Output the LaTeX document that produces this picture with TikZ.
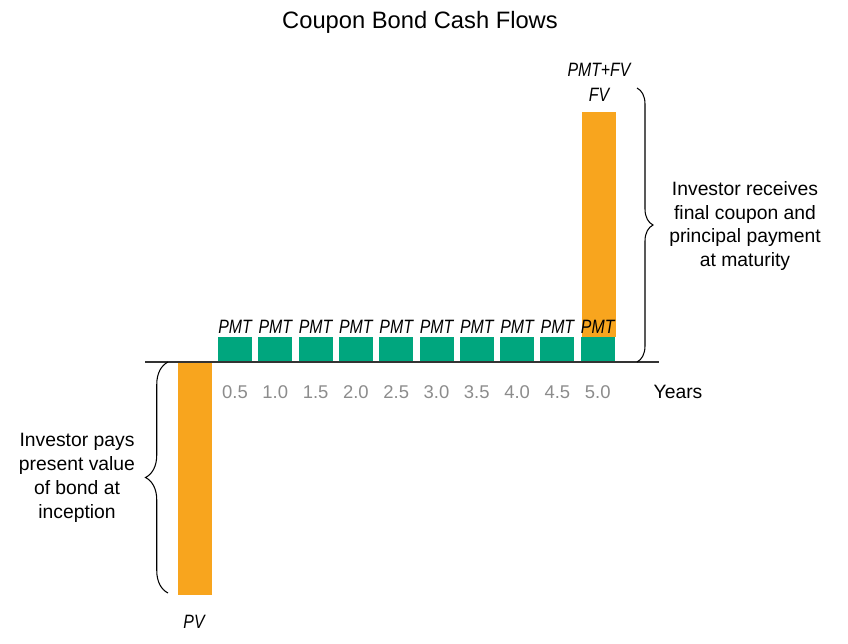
\documentclass[tikz,border=0pt]{standalone}
\usepackage{fontspec}
\usepackage{graphicx}
\setmainfont{Liberation Sans}
\usetikzlibrary{positioning}
\usetikzlibrary{decorations.pathreplacing}
\definecolor{bondorange}{HTML}{F8A51E}
\definecolor{bondgreen}{HTML}{00A67E}
\definecolor{yeargray}{HTML}{8C8C8C}

\newcommand{\narrow}[1]{\scalebox{0.82}[1]{#1}}

\tikzset{
  coupon/.style={fill=bondgreen, inner sep=0pt, minimum width=0.68cm, minimum height=0.5cm},
  cashlabel/.style={font=\fontsize{11}{12}\selectfont\itshape},
  yearlabel/.style={font=\fontsize{10.5}{12}\selectfont, text=yeargray},
  note/.style={align=center, font=\fontsize{11}{13.6}\selectfont},
  bondbrace/.style={decorate, decoration={brace, amplitude=#1}, semithick}
}

\begin{document}
\begin{tikzpicture}[x=0.02cm, y=-0.02cm]
\useasboundingbox (0,0) rectangle (848,643);

\node (title) at (420,22) {\fontsize{13.5}{16}\selectfont Coupon Bond Cash Flows};

% the initial outflow
\fill [bondorange] (178,362) rectangle (212,595);
\node [cashlabel] (pv) at (194,622) {\narrow{PV}};

% final principal on top of the last coupon
\fill [bondorange] (582,112) rectangle (616,337);
\node [cashlabel] (pmtfv) at (599,70) {\narrow{PMT+FV}};
\node [cashlabel] (fv) at (599,95) {\narrow{FV}};

% coupons
\foreach \i/\t in {1/0.5,2/1.0,3/1.5,4/2.0,5/2.5,6/3.0,7/3.5,8/4.0,9/4.5,10/5.0} {
  \node [coupon] (c\i) at ({235+(\i-1)*40.3},349.5) {};
  \node [cashlabel] (pmt\i) at ({235+(\i-1)*40.3},327) {\narrow{PMT}};
  \node [yearlabel] (yr\i) at ({235+(\i-1)*40.3},392) {\t};
}

% time axis
\coordinate (axisL) at (145,362);
\coordinate (axisR) at (659,362);
\draw [semithick, black!80] (axisL) -- (axisR);
\node (years) at (678,392) {\fontsize{11}{12}\selectfont Years};

% braces
\coordinate (lbB) at (168,593);
\coordinate (lbT) at (168,362);
\draw [bondbrace=0.45cm] (lbB) -- (lbT);
\node [note] (paynote) at (77,478) {Investor pays\\present value\\of bond at\\inception};

\coordinate (rbT) at (637,88);
\coordinate (rbB) at (637,362);
\draw [bondbrace=0.32cm] (rbT) -- (rbB);
\node [note] (recnote) at (745,226) {Investor receives\\final coupon and\\principal payment\\at maturity};
\end{tikzpicture}
\end{document}
